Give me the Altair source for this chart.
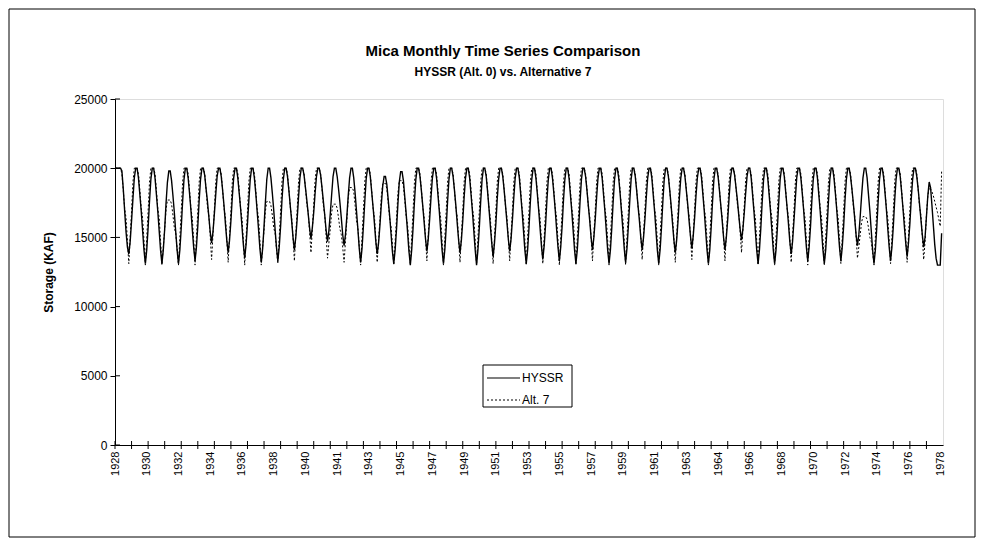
import altair as alt
import pandas as pd

# ---- data (KAF), one row of 12 monthly values per year, first month = Jul 1928 ----
hyssr_rows = [
    [20000,20000,20000,20000,20000,19800,18500,16900,15400,14300,13800,14700],
    [16200,17800,19300,20000,20000,19300,18100,16900,15500,14100,13100,14100],
    [15700,17600,19200,20000,20000,19300,18100,16900,15500,14100,13100,14100],
    [15600,17500,19000,19800,19800,19100,18000,16800,15400,14100,13100,14100],
    [15700,17600,19200,20000,20000,19300,18200,17000,15600,14300,13300,14300],
    [15800,17700,19200,20000,20000,19500,18500,17600,16500,15400,14600,15400],
    [16700,18100,19400,20000,20000,19400,18400,17300,16000,14800,13900,14800],
    [16200,17900,19300,20000,20000,19300,18200,17100,15800,14500,13500,14500],
    [16000,17700,19200,20000,20000,19300,18200,16900,15600,14200,13200,14200],
    [15800,17600,19200,20000,20000,19300,18200,17000,15600,14300,13300,14300],
    [15800,17700,19200,20000,20000,19400,18400,17300,16200,15000,14100,15000],
    [16300,17900,19300,20000,20000,19500,18600,17700,16700,15700,14900,15700],
    [16800,18200,19400,20000,20000,19500,18600,17600,16600,15500,14700,15500],
    [16700,18100,19400,20000,20000,19400,18500,17500,16400,15200,14400,15200],
    [16500,18000,19300,20000,20000,19300,18200,16900,15600,14200,13200,14200],
    [15800,17600,19200,20000,20000,19400,18300,17200,16000,14700,13800,14600],
    [15900,17400,18700,19400,19400,18800,17700,16600,15300,14000,13100,14100],
    [15600,17400,19000,19750,19750,19100,17900,16700,15400,14000,13000,14100],
    [15700,17600,19200,20000,20000,19400,18400,17300,16100,14900,14000,14900],
    [16300,17900,19300,20000,20000,19300,18100,16900,15500,14100,13100,14100],
    [15700,17600,19200,20000,20000,19400,18400,17300,16000,14800,13900,14800],
    [16200,17900,19300,20000,20000,19300,18100,16900,15500,14100,13000,14100],
    [15700,17600,19200,20000,20000,19400,18300,17100,15800,14600,13600,14600],
    [16000,17800,19200,20000,20000,19400,18400,17300,16100,14900,14000,14900],
    [16300,17900,19300,20000,20000,19300,18100,16900,15500,14100,13100,14100],
    [15700,17600,19200,20000,20000,19300,18200,17000,15700,14400,13400,14400],
    [15900,17700,19200,20000,20000,19300,18200,17000,15600,14300,13300,14300],
    [15800,17700,19200,20000,20000,19300,18100,16900,15500,14100,13100,14100],
    [15700,17600,19200,20000,20000,19400,18400,17300,16200,15000,14100,15000],
    [16300,17900,19300,20000,20000,19300,18100,16900,15500,14100,13100,14100],
    [15700,17600,19200,20000,20000,19300,18200,16900,15600,14200,13200,14200],
    [15800,17600,19200,20000,20000,19400,18400,17300,16200,15000,14100,15000],
    [16300,17900,19300,20000,20000,19300,18100,16900,15500,14100,13100,14100],
    [15700,17600,19200,20000,20000,19400,18400,17300,16000,14800,13900,14800],
    [16200,17900,19300,20000,20000,19400,18400,17400,16200,15100,14200,15100],
    [16400,18000,19300,20000,20000,19300,18100,16900,15500,14100,13100,14100],
    [15700,17600,19200,20000,20000,19400,18400,17300,16200,15000,14100,15000],
    [16300,17900,19300,20000,20000,19500,18600,17700,16600,15600,14800,15600],
    [16800,18200,19400,20000,20000,19300,18100,16900,15500,14100,13100,14100],
    [15700,17600,19200,20000,20000,19300,18100,16900,15500,14100,13100,14100],
    [15700,17600,19200,20000,20000,19400,18300,17200,16000,14700,13800,14700],
    [16200,17800,19300,20000,20000,19300,18200,17000,15600,14300,13300,14300],
    [15800,17700,19200,20000,20000,19300,18100,16900,15500,14100,13100,14100],
    [15700,17600,19200,20000,20000,19300,18200,17000,15600,14300,13300,14300],
    [15800,17700,19200,20000,20000,19400,18500,17500,16400,15200,14400,15200],
    [16500,18000,19300,20000,20000,19300,18100,16900,15500,14100,13100,14100],
    [15700,17600,19200,20000,20000,19300,18200,17000,15600,14300,13300,14300],
    [15800,17700,19200,20000,20000,19400,18300,17100,15800,14600,13600,14600],
    [16000,17800,19200,20000,20000,19400,18500,17400,16300,15200,14300,15000],
    [16500,18000,19000,18600,17300,15900,14500,13500,13000,13000,13000,15300],
]

alt7_rows = [
    [20000,20000,20000,20000,20000,19600,18400,17100,16400,14800,13100,15000],
    [16900,19000,20000,20000,20000,19600,18400,17100,16400,14800,13000,15000],
    [16900,19000,20000,20000,20000,19600,18400,17100,16400,14800,13000,14300],
    [15600,17000,17700,17700,17700,17400,16600,15700,15300,14200,13000,15000],
    [16900,19000,20000,20000,20000,19600,18400,17100,16400,14800,13000,15000],
    [16900,19000,20000,20000,20000,19600,18500,17200,16600,15100,13400,15200],
    [17000,19000,20000,20000,20000,19600,18400,17100,16500,14900,13200,15100],
    [16900,19000,20000,20000,20000,19600,18400,17100,16400,14800,13000,15000],
    [16900,19000,20000,20000,20000,19600,18400,17100,16400,14800,13000,14300],
    [15500,16900,17600,17600,17600,17300,16600,15700,15300,14200,13100,15000],
    [16900,19000,20000,20000,20000,19600,18500,17200,16500,15000,13300,15200],
    [17000,19000,20000,20000,20000,19600,18600,17400,16800,15400,13900,15600],
    [17300,19100,20000,20000,20000,19600,18500,17300,16600,15100,13500,14600],
    [15600,16800,17400,17400,17400,17100,16400,15600,15200,14300,13200,14700],
    [16200,17800,18600,18600,18600,18300,17300,16200,15700,14400,13000,15000],
    [16900,19000,20000,20000,20000,19600,18400,17100,16500,14900,13200,14800],
    [16300,18000,18900,18900,18900,18500,17500,16400,15800,14500,13000,14700],
    [16400,18200,19100,19100,19100,18700,17700,16500,15900,14500,13000,15000],
    [16900,19000,20000,20000,20000,19600,18500,17200,16500,15000,13300,15200],
    [17000,19000,20000,20000,20000,19600,18400,17100,16400,14800,13000,15000],
    [16900,19000,20000,20000,20000,19600,18400,17100,16500,14900,13200,15100],
    [16900,19000,20000,20000,20000,19600,18400,17100,16400,14800,13000,15000],
    [16900,19000,20000,20000,20000,19600,18400,17100,16400,14800,13100,15000],
    [16900,19000,20000,20000,20000,19600,18500,17200,16500,15000,13300,15200],
    [17000,19000,20000,20000,20000,19600,18400,17100,16400,14800,13000,15000],
    [16900,19000,20000,20000,20000,19600,18400,17100,16400,14800,13100,15000],
    [16900,19000,20000,20000,20000,19600,18400,17100,16400,14800,13000,15000],
    [16900,19000,20000,20000,20000,19600,18400,17100,16400,14800,13000,15000],
    [16900,19000,20000,20000,20000,19600,18500,17200,16500,15000,13300,15200],
    [17000,19000,20000,20000,20000,19600,18400,17100,16400,14800,13000,15000],
    [16900,19000,20000,20000,20000,19600,18400,17100,16400,14800,13000,15000],
    [16900,19000,20000,20000,20000,19600,18500,17200,16600,15100,13400,15200],
    [17000,19000,20000,20000,20000,19600,18400,17100,16400,14800,13000,15000],
    [16900,19000,20000,20000,20000,19600,18400,17100,16500,14900,13200,15100],
    [16900,19000,20000,20000,20000,19600,18500,17200,16600,15100,13400,15200],
    [17000,19000,20000,20000,20000,19600,18400,17100,16400,14800,13000,15000],
    [16900,19000,20000,20000,20000,19600,18500,17200,16500,15000,13300,15200],
    [17000,19000,20000,20000,20000,19600,18600,17400,16800,15400,13900,15600],
    [17300,19100,20000,20000,20000,19600,18400,17100,16400,14800,13000,15000],
    [16900,19000,20000,20000,20000,19600,18400,17100,16400,14800,13000,15000],
    [16900,19000,20000,20000,20000,19600,18400,17100,16500,14900,13200,15100],
    [16900,19000,20000,20000,20000,19600,18400,17100,16400,14800,13000,15000],
    [16900,19000,20000,20000,20000,19600,18400,17100,16400,14800,13000,15000],
    [16900,19000,20000,20000,20000,19600,18400,17100,16400,14800,13100,15000],
    [16900,19000,20000,20000,20000,19600,18500,17300,16600,15100,13500,14300],
    [15200,16100,16500,16500,16500,16300,15700,15000,14700,13900,13000,15000],
    [16900,19000,20000,20000,20000,19600,18400,17100,16400,14800,13100,15000],
    [16900,19000,20000,20000,20000,19600,18400,17100,16500,14900,13200,15100],
    [16900,19000,20000,20000,20000,19600,18500,17200,16600,15100,13400,14700],
    [16600,18000,18600,18500,18300,18000,17600,17200,16800,16300,15800,19800],
]

series_names = ["HYSSR", "Alt. 7"]
title_text = "Mica Monthly Time Series Comparison"
subtitle_text = "HYSSR (Alt. 0) vs. Alternative 7"
x_label_years = ["1928","1930","1932","1934","1936","1938","1940","1941","1943",
                 "1945","1947","1949","1951","1953","1955","1957","1959","1961",
                 "1963","1964","1966","1968","1970","1972","1974","1976","1978"]
x_label_step = 23          # months between category labels
x_tick_step = 12           # months between tick marks
y_ticks = [0, 5000, 10000, 15000, 20000, 25000]

hyssr = [v for row in hyssr_rows for v in row]
alt7 = [v for row in alt7_rows for v in row]
n = len(hyssr)

df = pd.DataFrame({
    "m": list(range(n)) * 2,
    "v": hyssr + alt7,
    "s": [series_names[0]] * n + [series_names[1]] * n,
})
label_pos = [i * x_label_step for i in range(len(x_label_years))]
tick_df = pd.DataFrame({"t": list(range(0, n, x_tick_step))})
ytick_df = pd.DataFrame({"y": y_ticks})

W, H = 828, 346
FONT = "Liberation Sans"

label_expr = "[" + ",".join("'%s'" % y for y in x_label_years) + "][round(datum.value/%d)]" % x_label_step

xscale = alt.Scale(domain=[0, n], nice=False, zero=False)
yscale = alt.Scale(domain=[0, 25000], nice=False)

x_axis = alt.Axis(values=label_pos, tickCount=len(label_pos) + 5,
                  labelExpr=label_expr, labelAngle=270,
                  labelAlign="right", labelBaseline="middle",
                  labelOverlap=False, labelFlush=False, labelBound=False,
                  tickSize=0, labelPadding=6, domainColor="black",
                  domainWidth=1, grid=False, title=None,
                  labelFont=FONT, labelFontSize=11, labelColor="black")
y_axis = alt.Axis(values=y_ticks, tickCount=len(y_ticks) + 2, format="d",
                  tickSize=5, tickColor="black",
                  domainColor="black", grid=False, labelPadding=3,
                  labelFont=FONT, labelFontSize=12, labelColor="black",
                  title="Storage (KAF)", titleFont=FONT, titleFontSize=12,
                  titleFontWeight="bold", titleColor="black", titlePadding=18)

lines = alt.Chart(df).mark_line(color="black", clip=True).encode(
    x=alt.X("m:Q", scale=xscale, axis=x_axis),
    y=alt.Y("v:Q", scale=yscale, axis=y_axis),
    strokeDash=alt.StrokeDash("s:N",
        scale=alt.Scale(domain=series_names, range=[[1, 0], [2, 2]]), legend=None),
    strokeWidth=alt.StrokeWidth("s:N",
        scale=alt.Scale(domain=series_names, range=[1.4, 1.0]), legend=None),
)

xticks = alt.Chart(tick_df).mark_rule(color="black", strokeWidth=1).encode(
    x=alt.X("t:Q", scale=xscale, axis=x_axis), y=alt.value(H - 4), y2=alt.value(H + 4))

yticks_in = alt.Chart(ytick_df).mark_rule(color="black", strokeWidth=1).encode(
    y=alt.Y("y:Q", scale=yscale, axis=y_axis), x=alt.value(0), x2=alt.value(5))

one = pd.DataFrame({"a": [0]})
frame = alt.Chart(one).mark_rect(
    fill="transparent", stroke="black", strokeWidth=1).encode(
    x=alt.value(-106), x2=alt.value(860), y=alt.value(-90), y2=alt.value(438))

title = alt.Chart(pd.DataFrame({"t": [title_text]})).mark_text(
    font=FONT, fontSize=15, fontWeight="bold", color="black",
    align="center", baseline="alphabetic").encode(
    text="t:N", x=alt.value(388), y=alt.value(-43))
subtitle = alt.Chart(pd.DataFrame({"t": [subtitle_text]})).mark_text(
    font=FONT, fontSize=12, fontWeight="bold", color="black",
    align="center", baseline="alphabetic").encode(
    text="t:N", x=alt.value(388), y=alt.value(-23))

# legend drawn by hand
leg_box = alt.Chart(one).mark_rect(fill="white", stroke="black", strokeWidth=1).encode(
    x=alt.value(368), x2=alt.value(457), y=alt.value(266), y2=alt.value(308))
leg_l1 = alt.Chart(one).mark_rule(color="black", strokeWidth=1.2).encode(
    x=alt.value(372), x2=alt.value(405), y=alt.value(279))
leg_l2 = alt.Chart(one).mark_rule(color="black", strokeWidth=1, strokeDash=[2, 2]).encode(
    x=alt.value(372), x2=alt.value(405), y=alt.value(301))
leg_t1 = alt.Chart(pd.DataFrame({"s": [series_names[0]]})).mark_text(
    font=FONT, fontSize=12, color="black", align="left", baseline="middle").encode(
    text="s:N", x=alt.value(407), y=alt.value(279))
leg_t2 = alt.Chart(pd.DataFrame({"s": [series_names[1]]})).mark_text(
    font=FONT, fontSize=12, color="black", align="left", baseline="middle").encode(
    text="s:N", x=alt.value(407), y=alt.value(301))

chart = alt.layer(frame, lines, xticks, yticks_in, title, subtitle,
                  leg_box, leg_l1, leg_l2, leg_t1, leg_t2).properties(
    width=W, height=H,
    padding={"left": 107, "top": 91, "right": 33, "bottom": 93},
    autosize=alt.AutoSizeParams(type="none"),
).configure_view(stroke=None).configure(background="white")

chart.save("out.html", embed_options={"renderer": "svg", "actions": False})
